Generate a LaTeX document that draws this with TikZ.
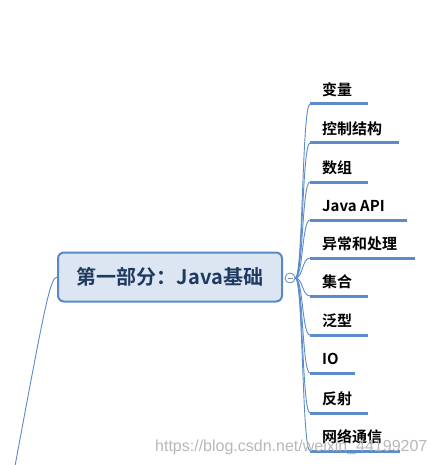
\documentclass[tikz,border=0pt]{standalone}
\usepackage{fontspec}
\newfontfamily\cjkb{Noto Sans CJK SC Bold}
\newfontfamily\wmfont{Liberation Sans}
\definecolor{linecol}{HTML}{5B8BCB}
\definecolor{boxfill}{HTML}{DCE6F3}
\definecolor{boxdraw}{HTML}{5A8AC6}
\definecolor{titlecol}{HTML}{1F3A60}
\begin{document}
\begin{tikzpicture}[x=1pt,y=-1pt,
  conn/.style={draw=linecol, line width=0.9pt},
  uline/.style={draw=linecol, line width=3pt},
  lbl/.style={anchor=west, inner sep=0pt, font=\cjkb\fontsize{15}{15}\selectfont},
  mainbox/.style={draw=boxdraw, fill=boxfill, line width=2pt, rounded corners=6pt,
    minimum width=224pt, minimum height=49pt, inner sep=0pt, text=titlecol,
    font=\cjkb\fontsize{20}{20}\selectfont},
  collapse/.style={circle, draw=linecol, fill=white, line width=0.8pt, minimum size=10pt, inner sep=0pt},
  wm/.style={anchor=west, inner sep=0pt, text=black!28, font=\wmfont\fontsize{16}{16}\selectfont}]
\useasboundingbox[fill=white] (0,0) rectangle (435,465);
% parent connector
\coordinate (pbot) at (15,466);
\node[mainbox] (main) at (170,277) {第一部分：Java基础};
\draw[conn] (main.west) .. controls (50,278) and (45,305) .. (pbot);
% collapse marker
\node[collapse] (col) at (290,278) {};
\draw[black!45, line width=0.6pt] ([xshift=-2.5pt]col.center) -- ([xshift=2.5pt]col.center);
% branches
\foreach \i/\y/\e/\t in {1/104/368/变量, 2/143/399/控制结构, 3/182/368/数组,
    4/220/407/Java API, 5/258/415/异常和处理, 6/296/368/集合, 7/335/368/泛型,
    8/373/355/IO, 9/413/368/反射, 10/451/400/网络通信} {
  \coordinate (u\i) at (310,\y);
  \coordinate (v\i) at (\e,\y);
  \node[lbl] (t\i) at (322,\y-14) {\t};
  \draw[conn] (col.east) .. controls (303,278) and (302,\y) .. (u\i);
  \draw[uline] (u\i) -- (v\i);
}
% watermark
\node[wm] (wmk) at (155,447) {https://blog.csdn.net/weixin\_44199207};
\end{tikzpicture}
\end{document}
